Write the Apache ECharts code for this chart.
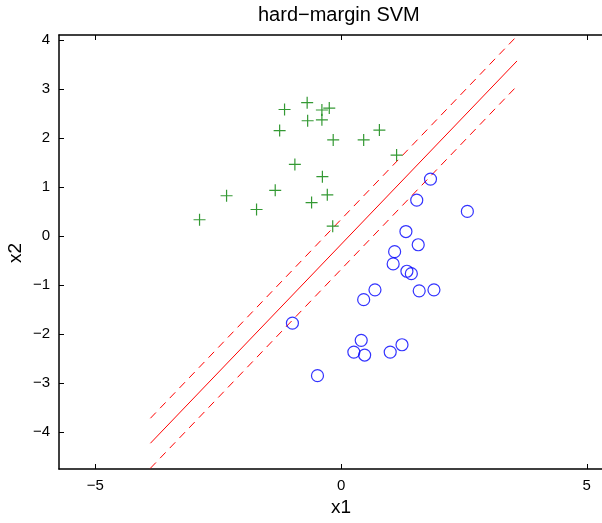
<!DOCTYPE html>
<html>
<head>
<meta charset="utf-8">
<script src="https://cdn.jsdelivr.net/npm/echarts@6/dist/echarts.min.js"></script>
<style>html,body{margin:0;padding:0;background:#fff;}#c{width:602px;height:523px;}</style>
</head>
<body>
<div id="c"></div>
<script>
// Class +1 (green plus)
const posX = [-2.88, -2.33, -1.72, -1.34, -1.25, -1.15, -0.94, -0.69, -0.68, -0.39, -0.39, -0.24, -0.16, 0.46, 0.78, 1.13, -0.38, -0.28, -0.60, -0.17];
const posY = [0.33, 0.82, 0.54, 0.93, 2.15, 2.58, 1.46, 2.72, 2.35, 2.37, 2.57, 2.61, 1.96, 1.96, 2.16, 1.65, 1.21, 0.84, 0.68, 0.20];
// Class -1 (blue circles)
const negX = [1.82, 1.54, 2.57, 1.32, 1.57, 1.09, 1.06, 1.34, 1.43, 0.69, 0.46, 1.59, 1.89, 0.41, 0.26, 0.48, 1.00, 1.24, -0.48, -0.99];
const negY = [1.16, 0.73, 0.50, 0.09, -0.18, -0.32, -0.57, -0.72, -0.77, -1.10, -1.30, -1.12, -1.10, -2.13, -2.37, -2.43, -2.37, -2.22, -2.85, -1.78];
// Decision boundary and margins
const lineX = [-3.88, 3.58];
const boundaryY = [-4.23, 3.57];
const marginUpY = [-3.72, 4.08];
const marginLoY = [-4.74, 3.06];
const xTicks = [-5, 0, 5];
const yTicks = [-4, -3, -2, -1, 0, 1, 2, 3, 4];

const zip = (xs, ys) => xs.map((x, i) => [x, ys[i]]);
const fmt = v => String(v).replace('-', '\u2212');
const FONT = 'Liberation Sans, Arial, Helvetica, sans-serif';

const chart = echarts.init(document.getElementById('c'), null, {renderer: 'canvas'});
const XMIN = -5.74, XMAX = 5.31, YMIN = -4.755, YMAX = 4.10;
const axisLine = {show: true, onZero: false, lineStyle: {color: '#000', width: 1.5}};
chart.setOption({
  animation: false,
  backgroundColor: '#fff',
  grid: {left: 59, right: 0, top: 35, bottom: 54, containLabel: false},
  graphic: [
    {type: 'text', left: 258, top: 5, style: {text: 'hard\u2212margin SVM', font: '20px ' + FONT, fill: '#000'}},
    {type: 'text', x: 341, y: 508, style: {text: 'x1', font: '19px ' + FONT, fill: '#000', align: 'center', verticalAlign: 'middle'}},
    {type: 'text', x: 16, y: 253, rotation: Math.PI / 2, style: {text: 'x2', font: '19px ' + FONT, fill: '#000', align: 'center', verticalAlign: 'middle'}}
  ],
  xAxis: [{
    type: 'value', min: XMIN, max: XMAX, position: 'bottom',
    axisLine: axisLine,
    axisTick: {show: true, inside: true, length: 5, customValues: xTicks, lineStyle: {color: '#000', width: 1}},
    axisLabel: {show: true, customValues: xTicks, formatter: fmt, color: '#000', fontSize: 15, fontFamily: FONT, margin: 9},
    splitLine: {show: false}
  }, {
    type: 'value', min: XMIN, max: XMAX, position: 'top',
    axisLine: axisLine,
    axisTick: {show: true, inside: true, length: 5, customValues: xTicks, lineStyle: {color: '#000', width: 1}},
    axisLabel: {show: false},
    splitLine: {show: false}
  }],
  yAxis: [{
    type: 'value', min: YMIN, max: YMAX, position: 'left',
    axisLine: axisLine,
    axisTick: {show: true, inside: true, length: 5, customValues: yTicks, lineStyle: {color: '#000', width: 1}},
    axisLabel: {show: true, customValues: yTicks, formatter: fmt, color: '#000', fontSize: 15, fontFamily: FONT, margin: 9},
    splitLine: {show: false}
  }],
  series: [
    {type: 'line', data: zip(lineX, boundaryY), showSymbol: false, symbol: 'none', lineStyle: {color: '#ff0000', width: 1}, clip: true, z: 2},
    {type: 'line', data: zip(lineX, marginUpY), showSymbol: false, symbol: 'none', lineStyle: {color: '#ff0000', width: 1, type: [8, 6]}, clip: true, z: 2},
    {type: 'line', data: zip(lineX, marginLoY), showSymbol: false, symbol: 'none', lineStyle: {color: '#ff0000', width: 1, type: [8, 6]}, clip: true, z: 2},
    {type: 'scatter', data: zip(posX, posY), symbol: 'path://M0,5L10,5M5,0L5,10', symbolSize: 12,
     itemStyle: {color: 'transparent', borderColor: '#008000', borderWidth: 1.2}, z: 3},
    {type: 'scatter', data: zip(negX, negY), symbol: 'circle', symbolSize: 12,
     itemStyle: {color: 'transparent', borderColor: '#0000ff', borderWidth: 1.2}, z: 3}
  ]
});
</script>
</body>
</html>
